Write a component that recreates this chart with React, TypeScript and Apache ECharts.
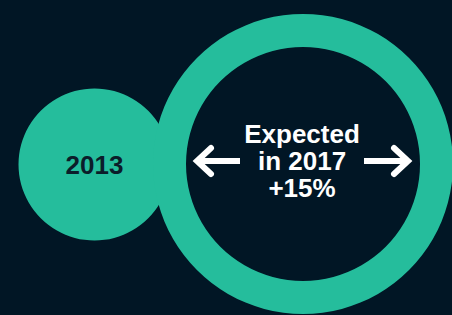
import React, { useEffect, useRef } from "react";
import * as echarts from "echarts";

const years = ["2013", "2017"];
const growthLabel = ["Expected", "in 2017", "+15%"];
const circleValues = [1, 1];

const TEAL = "#25bd9c";
const BG = "#011625";
const DARK = "#0b1d2a";

export default function App() {
  const ref = useRef<HTMLDivElement>(null);
  useEffect(() => {
    if (!ref.current) return;
    const chart = echarts.init(ref.current, null, { renderer: "svg" });
    const white = { stroke: "#ffffff", lineWidth: 6, fill: null, lineCap: "round", lineJoin: "miter" };
    chart.setOption({
      animation: false,
      backgroundColor: BG,
      series: [
        {
          type: "pie",
          center: [94.5, 164.5],
          radius: [0, 76],
          silent: true,
          emphasis: { disabled: true },
          labelLine: { show: false },
          itemStyle: { color: TEAL, borderWidth: 0 },
          label: {
            show: true,
            position: "center",
            formatter: years[0],
            color: DARK,
            fontFamily: "Liberation Sans, Arial, sans-serif",
            fontWeight: "bold",
            fontSize: 26,
          },
          data: [{ name: years[0], value: circleValues[0] }],
        },
        {
          type: "pie",
          center: [303, 164],
          radius: [117, 150],
          silent: true,
          emphasis: { disabled: true },
          labelLine: { show: false },
          itemStyle: { color: TEAL, borderWidth: 0 },
          label: {
            show: true,
            position: "center",
            formatter: growthLabel.join("\n"),
            color: "#ffffff",
            fontFamily: "Liberation Sans, Arial, sans-serif",
            fontWeight: "bold",
            fontSize: 26,
            lineHeight: 27,
            offset: [-1, -3],
          },
          data: [{ name: years[1], value: circleValues[1] }],
        },
      ],
      graphic: [
        { type: "line", silent: true, shape: { x1: 199, y1: 161, x2: 240, y2: 161 }, style: { ...white, lineCap: "butt" } },
        { type: "polyline", silent: true, shape: { points: [[211, 148], [197, 161], [211, 174]] }, style: white },
        { type: "line", silent: true, shape: { x1: 364, y1: 161, x2: 406, y2: 161 }, style: { ...white, lineCap: "butt" } },
        { type: "polyline", silent: true, shape: { points: [[394, 148], [408, 161], [394, 174]] }, style: white },
      ],
    });
    return () => chart.dispose();
  }, []);
  return <div ref={ref} style={{ position: "fixed", left: 0, top: 0, width: 452, height: 315 }} />;
}
